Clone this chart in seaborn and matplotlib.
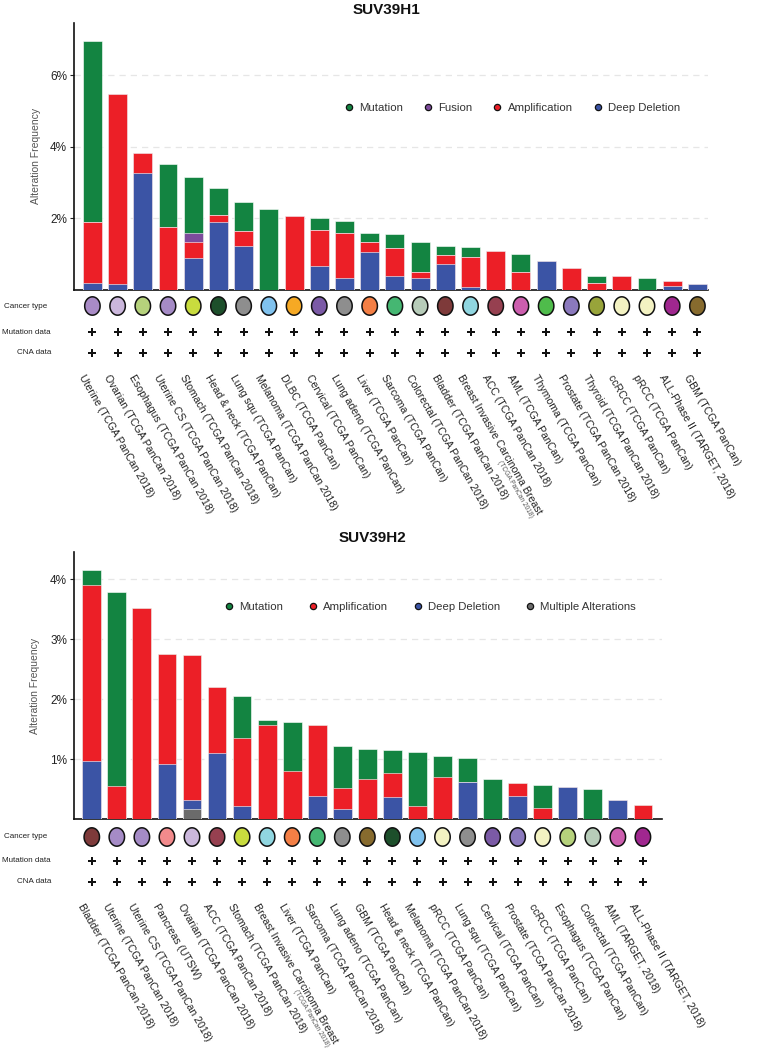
import numpy as np
import matplotlib
matplotlib.use("Agg")
import matplotlib.pyplot as plt
from matplotlib.path import Path
from matplotlib.lines import Line2D
from matplotlib.transforms import blended_transform_factory, ScaledTranslation
import seaborn as sns

sns.set_theme(style="white")
plt.rcParams['font.family'] = ['Liberation Sans', 'DejaVu Sans']

GREEN = '#138441'
RED = '#ec1f27'
BLUE = '#3b54a5'
PURPLE = '#7d4b9c'
GRAY = '#6b6b6b'

# ---------------- SUV39H1 ----------------
h1_names = [
    "Uterine (TCGA PanCan 2018)", "Ovarian (TCGA PanCan 2018)", "Esophagus (TCGA PanCan 2018)",
    "Uterine CS (TCGA PanCan 2018)", "Stomach (TCGA PanCan 2018)", "Head & neck (TCGA PanCan)",
    "Lung squ (TCGA PanCan)", "Melanoma (TCGA PanCan 2018)", "DLBC (TCGA PanCan)",
    "Cervical (TCGA PanCan)", "Lung adeno (TCGA PanCan)", "Liver (TCGA PanCan)",
    "Sarcoma (TCGA PanCan)", "Colorectal (TCGA PanCan 2018)", "Bladder (TCGA PanCan 2018)",
    "Breast Invasive Carcinoma Breast", "ACC (TCGA PanCan 2018)", "AML (TCGA PanCan)",
    "Thymoma (TCGA PanCan)", "Prostate (TCGA PanCan 2018)", "Thyroid (TCGA PanCan 2018)",
    "ccRCC (TCGA PanCan)", "pRCC (TCGA PanCan)", "ALL-Phase II (TARGET, 2018)", "GBM (TCGA PanCan)",
]
h1_deletion = [0.17, 0.15, 3.27, 0, 0.89, 1.90, 1.21, 0, 0, 0.66, 0.33, 1.05, 0.38,
               0.33, 0.72, 0.08, 0, 0, 0.80, 0, 0, 0, 0, 0.11, 0.15]
h1_amplification = [1.71, 5.31, 0.55, 1.74, 0.45, 0.18, 0.42, 0, 2.06, 1.01, 1.24, 0.28, 0.77,
                    0.16, 0.24, 0.82, 1.09, 0.50, 0, 0.59, 0.19, 0.38, 0, 0.13, 0]
h1_fusion = [0, 0, 0, 0, 0.23, 0, 0, 0, 0, 0, 0, 0, 0,
             0, 0, 0, 0, 0, 0, 0, 0, 0, 0, 0, 0]
h1_mutation = [5.09, 0, 0, 1.76, 1.59, 0.76, 0.81, 2.24, 0, 0.32, 0.36, 0.26, 0.40,
               0.84, 0.25, 0.28, 0, 0.49, 0, 0, 0.20, 0, 0.33, 0, 0]
h1_type_colors = ['#a98bc6', '#cbb7dc', '#b6d27c', '#a58bc6', '#c9dc3e', '#1d4f2b', '#8e8e8e',
                  '#80c2ee', '#f6a924', '#7b5aa6', '#8e8e8e', '#f47f45', '#45b772', '#b7ccb9',
                  '#7e3a3a', '#90d6e0', '#964050', '#cc5eae', '#4fbc4b', '#8b79bd', '#98a43a',
                  '#f3f2c2', '#f3f2c2', '#a0278f', '#876b2e']

# ---------------- SUV39H2 ----------------
h2_names = [
    "Bladder (TCGA PanCan 2018)", "Uterine (TCGA PanCan 2018)", "Uterine CS (TCGA PanCan 2018)",
    "Pancreas (UTSW)", "Ovarian (TCGA PanCan 2018)", "ACC (TCGA PanCan 2018)",
    "Stomach (TCGA PanCan 2018)", "Breast Invasive Carcinoma Breast", "Liver (TCGA PanCan)",
    "Sarcoma (TCGA PanCan 2018)", "Lung adeno (TCGA PanCan)", "GBM (TCGA PanCan)",
    "Head & neck (TCGA PanCan)", "Melanoma (TCGA PanCan 2018)", "pRCC (TCGA PanCan)",
    "Lung squ (TCGA PanCan)", "Cervical (TCGA PanCan)", "Prostate (TCGA PanCan 2018)",
    "ccRCC (TCGA PanCan)", "Esophagus (TCGA PanCan)", "Colorectal (TCGA PanCan)",
    "AML (TARGET, 2018)", "ALL-Phase II (TARGET, 2018)",
]
h2_multiple = [0, 0, 0, 0, 0.17, 0, 0, 0, 0, 0, 0, 0,
               0, 0, 0, 0, 0, 0, 0, 0, 0, 0, 0]
h2_deletion = [0.97, 0, 0, 0.92, 0.16, 1.10, 0.22, 0, 0, 0.39, 0.17, 0,
               0.38, 0, 0, 0.62, 0, 0.39, 0, 0.54, 0, 0.33, 0]
h2_amplification = [2.93, 0.56, 3.52, 1.84, 2.41, 1.11, 1.14, 1.57, 0.81, 1.18, 0.36, 0.67,
                    0.39, 0.22, 0.70, 0, 0, 0.22, 0.19, 0, 0, 0, 0.24]
h2_mutation = [0.25, 3.23, 0, 0, 0, 0, 0.69, 0.09, 0.81, 0, 0.70, 0.51,
               0.38, 0.91, 0.36, 0.41, 0.67, 0, 0.39, 0, 0.50, 0, 0]
h2_type_colors = ['#7e3a3a', '#a58bc6', '#a58bc6', '#f28a8c', '#cbb7dc', '#964050', '#c9dc3e',
                  '#90d6e0', '#f47f45', '#45b772', '#8e8e8e', '#876b2e', '#1d4f2b', '#80c2ee',
                  '#f3f2c2', '#8e8e8e', '#7b5aa6', '#8b79bd', '#f3f2c2', '#b6d27c', '#b7ccb9',
                  '#cc5eae', '#a0278f']

legend_items = {
    'SUV39H1': [('Mutation', GREEN), ('Fusion', PURPLE), ('Amplification', RED), ('Deep Deletion', BLUE)],
    'SUV39H2': [('Mutation', GREEN), ('Amplification', RED), ('Deep Deletion', BLUE),
                ('Multiple Alterations', GRAY)],
}
# x-limits in bar units so the axes line up with the reference spines
ax_lims = {'SUV39H1': (-0.73, 24.42), 'SUV39H2': (-0.71, 22.75)}

W, H = 769, 1050

# tall ellipse marker for the cancer type row
theta = np.linspace(0, 2 * np.pi, 60)
ELLIPSE = Path(np.column_stack([0.42 * np.cos(theta), 0.5 * np.sin(theta)]))


def fx(px):
    return px / W


def fy(py):
    return 1 - py / H


def draw_panel(fig, title, title_pos, names, layers, type_colors, box, rows_box, row_ys,
               ylim, yticks, legend_anchor, colspace, ylabel_x):
    x0, x1, top, base = box
    n = len(names)
    ax = fig.add_axes([fx(x0), fy(base), fx(x1 - x0), (base - top) / H])

    # stacked bars: draw cumulative totals from the top layer down
    cum = np.zeros(n)
    stacks = []
    for label, vals, col in layers:
        cum = cum + np.asarray(vals, dtype=float)
        stacks.append((cum.copy(), col))
    for tot, col in reversed(stacks):
        sns.barplot(x=names, y=tot, color=col, saturation=1, width=0.75, errorbar=None,
                    edgecolor='white', linewidth=0.4, ax=ax, zorder=3)

    ax.set_xlim(*ax_lims[title])
    ax.set_ylim(*ylim)
    ax.set_yticks(yticks)
    ax.set_yticklabels([f"{t}%" for t in yticks], fontsize=8.5, color='#222')
    ax.set_xticks([])
    ax.set_xlabel('')
    ax.set_ylabel('Alteration Frequency', fontsize=7.5, color='#555')
    ax.yaxis.set_label_coords(ylabel_x, 0.5)
    ax.tick_params(axis='y', length=3, width=0.8, color='#222', pad=2, left=True)
    ax.yaxis.grid(True, linestyle=(0, (5, 4)), color='#e6e6e6', linewidth=0.9)
    ax.set_axisbelow(True)
    for s in ['top', 'right']:
        ax.spines[s].set_visible(False)
    for s in ['left', 'bottom']:
        ax.spines[s].set_color('#111')
        ax.spines[s].set_linewidth(1.2)

    handles = [Line2D([], [], ls='', marker='o', markersize=4.5, markerfacecolor=col,
                      markeredgecolor='#111', markeredgewidth=0.9, label=label)
               for label, col in legend_items[title]]
    ax.legend(handles=handles, loc='center', bbox_to_anchor=legend_anchor, ncol=len(handles),
              frameon=False, fontsize=8.2, handletextpad=0.4, columnspacing=colspace,
              handlelength=1.0, labelcolor='#333')

    fig.text(fx(title_pos[0]), fy(title_pos[1]), title, ha='center', va='center',
             fontsize=11, fontweight='bold', color='#111')

    # annotation rows: cancer type, mutation data, CNA data
    rtop, rbot = rows_box
    axr = fig.add_axes([fx(x0), fy(rbot), fx(x1 - x0), (rbot - rtop) / H])
    axr.set_xlim(ax.get_xlim())
    axr.set_ylim(rbot, rtop)
    xs = np.arange(n)
    axr.scatter(xs, np.full(n, row_ys[0]), marker=ELLIPSE, s=175, c=type_colors,
                edgecolors='#111', linewidths=1.1, zorder=3)
    axr.scatter(xs, np.full(n, row_ys[1]), marker='P', s=38, c='#111', linewidths=0)
    axr.scatter(xs, np.full(n, row_ys[2]), marker='P', s=38, c='#111', linewidths=0)
    axr.set_yticks([])
    for s in axr.spines.values():
        s.set_visible(False)
    axr.set_xticks(xs)
    axr.set_xticklabels(names, rotation=-60, ha='left', va='top', rotation_mode='anchor',
                        fontsize=7.6, color='#222')
    axr.tick_params(axis='x', length=0, pad=5)
    shift = ScaledTranslation(-0.07, 0, fig.dpi_scale_trans)
    for lab in axr.get_xticklabels():
        lab.set_transform(lab.get_transform() + shift)

    tr = blended_transform_factory(fig.transFigure, axr.transData)
    for txt, y, xr in zip(['Cancer type', 'Mutation data', 'CNA data'], row_ys, [47, 51, 51]):
        axr.text(fx(xr), y, txt, transform=tr, ha='right', va='center', fontsize=5.8,
                 color='#222')

    # small sub-line under the Breast label
    lab = axr.get_xticklabels()[names.index("Breast Invasive Carcinoma Breast")]
    axr.annotate('(TCGA PanCan 2018)', xy=(1, 0), xycoords=lab, xytext=(-6.5, 0),
                 textcoords='offset points', rotation=-60, ha='right', va='top',
                 rotation_mode='anchor', fontsize=4.8, color='#555')
    return ax


fig = plt.figure(figsize=(W / 100, H / 100), dpi=100)

draw_panel(fig, 'SUV39H1', (386, 10), h1_names,
           [('Deep Deletion', h1_deletion, BLUE), ('Amplification', h1_amplification, RED),
            ('Fusion', h1_fusion, PURPLE), ('Mutation', h1_mutation, GREEN)],
           h1_type_colors, (74, 708, 22.7, 289.5), (292, 366), (306, 332, 353),
           (0, 7.47), [2, 4, 6], (0.69, 0.68), 1.7, -0.052)

draw_panel(fig, 'SUV39H2', (372, 538), h2_names,
           [('Multiple Alterations', h2_multiple, GRAY), ('Deep Deletion', h2_deletion, BLUE),
            ('Amplification', h2_amplification, RED), ('Mutation', h2_mutation, GREEN)],
           h2_type_colors, (74, 661.7, 551.7, 819.3), (822, 895), (837, 861, 882),
           (0, 4.46), [1, 2, 3, 4], (0.605, 0.793), 2.1, -0.058)

fig.savefig('out.png', dpi=100)
